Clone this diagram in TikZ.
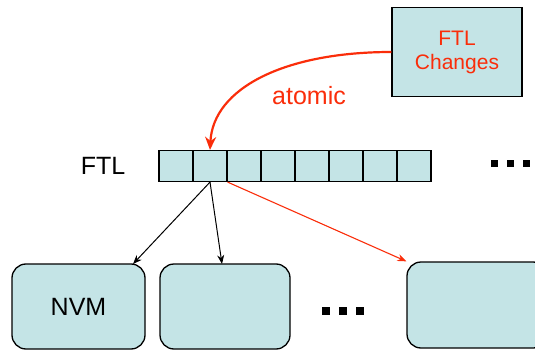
\documentclass[tikz,border=0pt]{standalone}
\usepackage{fontspec}
\setmainfont{Liberation Sans}
\usetikzlibrary{positioning, arrows.meta}
\definecolor{boxfill}{RGB}{196,228,230}
\definecolor{ftlred}{RGB}{250,45,10}
\tikzset{
>={Stealth[length=9pt, width=7pt]}, % arrow heads for all connectors
cell/.style={draw, line width=1.2pt, fill=boxfill, minimum width=34pt, minimum height=31pt, inner sep=0pt}, % one slot of the FTL table
block/.style={draw, line width=1.3pt, fill=boxfill, rounded corners=14pt, inner sep=0pt}, % a NVM block
}

\begin{document}
\begin{tikzpicture}[
  x=1pt, y=-1pt,
  font=\fontsize{25}{28}\selectfont,
  change/.style={draw, line width=1.5pt, fill=boxfill, minimum width=130pt, minimum height=89pt, text=ftlred, align=center, font=\fontsize{21}{24}\selectfont},
  link/.style={->, line width=1pt},
  redlink/.style={->, line width=1.1pt, ftlred}
]
  \clip (0,0) rectangle (535,350);
  % the changes to be applied
  \node[change] (changes) at (457,52) {FTL\\Changes};
  % the table itself
  \node (ftl) at (103,166) {FTL};
  \foreach \i in {1,...,8}
    \node[cell] (c\i) at ({176+34*(\i-1)},166) {};
  \foreach \x in {494,510,526}
    \fill (\x-3.5,163-3.5) rectangle (\x+3.5,163+3.5);
  % the blocks
  \node[block, minimum width=133pt, minimum height=85pt] (nvm) at (78.5,306.5) {NVM};
  \node[block, minimum width=130pt, minimum height=85pt] (b2) at (225,306.5) {};
  \node[block, minimum width=140pt, minimum height=86pt] (b3) at (477,305) {};
  \coordinate (nvmin) at (133,264);
  \coordinate (b2in) at (222,264);
  \foreach \x in {326,343,360}
    \fill (\x-4,311-4) rectangle (\x+4,311+4);
  % connectors
  \draw[redlink, line width=2.2pt, >={Stealth[length=13pt, width=11pt]}] (changes.west) .. controls (285,52) and (213,88) .. (c2.north);
  \node[text=ftlred] (atomic) at (309,96) {atomic};
  \draw[link] (c2.south) -- (nvmin);
  \draw[link] (c2.south) -- (b2in);
  \draw[redlink] (c2.south east) -- (b3.north west);
\end{tikzpicture}
\end{document}
